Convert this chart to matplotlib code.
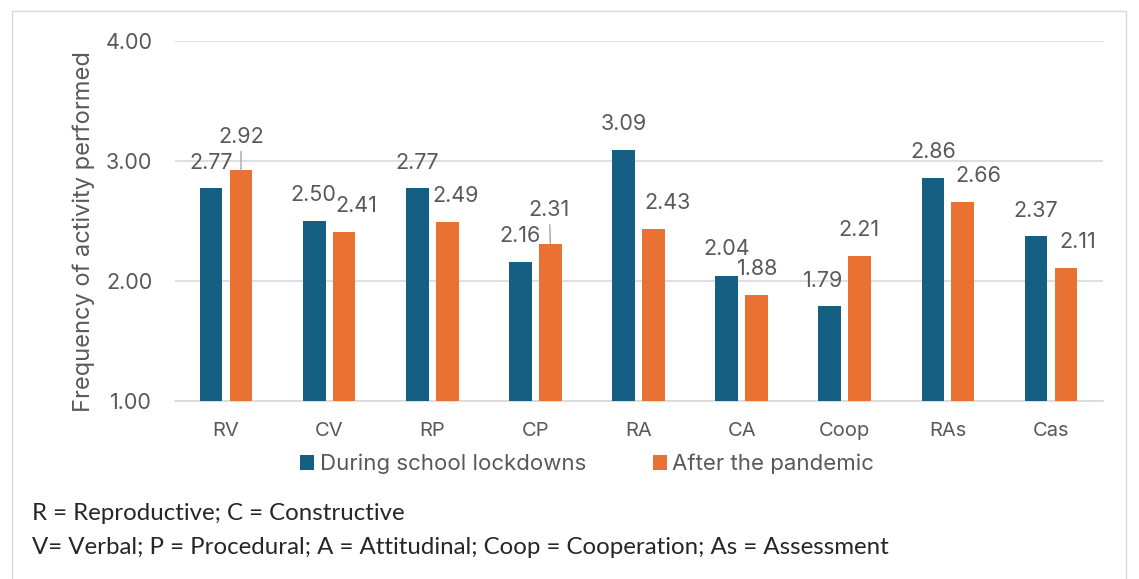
import numpy as np
import matplotlib.pyplot as plt
from matplotlib.patches import Rectangle

categories = ["RV", "CV", "RP", "CP", "RA", "CA", "Coop", "RAs", "Cas"]
during = [2.77, 2.50, 2.77, 2.16, 3.09, 2.04, 1.79, 2.86, 2.37]
after = [2.92, 2.41, 2.49, 2.31, 2.43, 1.88, 2.21, 2.66, 2.11]
series_names = ["During school lockdowns", "After the pandemic"]
footnotes = ["R = Reproductive; C = Constructive",
             "V= Verbal; P = Procedural; A = Attitudinal; Coop = Cooperation; As = Assessment"]

# label nudges (pixels) as placed in the original chart
during_dx = [0, -1, 0, 0, 0, 0, -7, 0, 0]
during_dy = [25, 26, 25, 25, 26, 27, 25, 25, 25]
after_dx = [0, 12, 8, -1, 14, 1, -1, 16, 12]
after_dy = [33, 25, 26, 33, 26, 26, 25, 25, 25]
after_leader = [True, False, False, True, False, False, False, False, False]

BLUE = "#156082"
ORANGE = "#E97132"
TXT = "#595959"
GRID = "#D9D9D9"
FONT = "Inter"

W, H = 1139, 579
fig = plt.figure(figsize=(W / 100, H / 100), dpi=100)
fig.patch.set_facecolor("white")

# chart border
fig.patches.append(Rectangle((12 / W, -0.01), (1126 - 12) / W, 1 - 11 / H + 0.01,
                             transform=fig.transFigure, fill=False,
                             edgecolor="#D9D9D9", lw=1.0))

ax = fig.add_axes([174.5 / W, 1 - 400.7 / H, (1102.5 - 174.5) / W, 360 / H])
x = np.arange(len(categories))
width = 0.22
off = 0.145
b1 = ax.bar(x - off, during, width, bottom=0, color=BLUE, zorder=3, label=series_names[0])
b2 = ax.bar(x + off, after, width, bottom=0, color=ORANGE, zorder=3, label=series_names[1])

ax.set_ylim(1, 4)
ax.set_xlim(-0.5, len(categories) - 0.5)
ax.set_yticks([1, 2, 3, 4])
ax.set_yticklabels([f"{v:.2f}" for v in [1, 2, 3, 4]])
ax.set_xticks(x)
ax.set_xticklabels(categories)
for s in ["top", "right", "left"]:
    ax.spines[s].set_visible(False)
ax.spines["bottom"].set_color(GRID)
ax.spines["bottom"].set_linewidth(1.2)
ax.yaxis.grid(True, color=GRID, lw=1.2, zorder=0)
ax.set_axisbelow(True)
ax.tick_params(axis="both", length=0, labelcolor=TXT)
ax.tick_params(axis="y", pad=16, labelsize=15.5)
ax.tick_params(axis="x", pad=15, labelsize=14.5)
for lab in ax.get_xticklabels() + ax.get_yticklabels():
    lab.set_fontfamily(FONT)
ax.set_ylabel("Frequency of activity performed", fontsize=17, color=TXT,
              fontfamily=FONT)
ax.yaxis.set_label_coords(-0.086, 0.47)

for i in range(len(categories)):
    ax.annotate(f"{during[i]:.2f}", xy=(x[i] - off, during[i]),
                xytext=(during_dx[i], during_dy[i]), textcoords="offset pixels",
                ha="center", va="center", fontsize=15.5, color=TXT, fontfamily=FONT)
    arrow = None
    if after_leader[i]:
        arrow = dict(arrowstyle="-", color="#A6A6A6", lw=1.0, shrinkA=1, shrinkB=0)
    ax.annotate(f"{after[i]:.2f}", xy=(x[i] + off, after[i]),
                xytext=(after_dx[i], after_dy[i]), textcoords="offset pixels",
                ha="center", va="center", fontsize=15.5, color=TXT, fontfamily=FONT,
                arrowprops=arrow)

fig.legend(handles=[b1, b2], labels=series_names, loc="center",
           bbox_to_anchor=(587 / W, 1 - 464 / H), ncol=2, frameon=False,
           handlelength=0.64, handleheight=0.64, handletextpad=0.25,
           columnspacing=3.0, prop={"family": FONT, "size": 16},
           labelcolor=TXT, borderpad=0, borderaxespad=0)

fig.text(32 / W, 1 - 513 / H, footnotes[0], fontsize=17.3, fontfamily="Lato",
         color="#262626", va="center")
fig.text(32 / W, 1 - 547 / H, footnotes[1], fontsize=17.3, fontfamily="Lato",
         color="#262626", va="center")

fig.savefig("out.png", dpi=100)
